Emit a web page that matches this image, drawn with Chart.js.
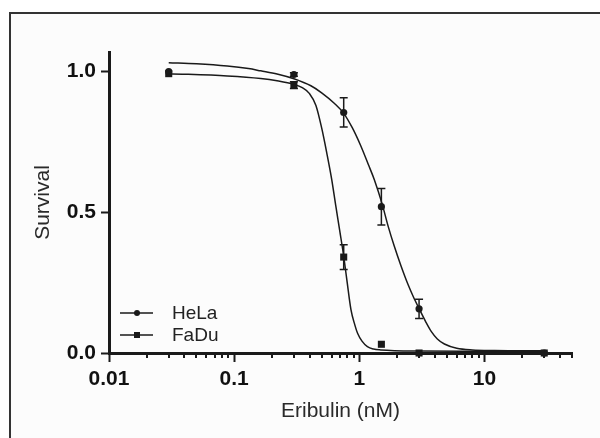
<!DOCTYPE html>
<html>
<head>
<meta charset="utf-8">
<script src="https://cdn.jsdelivr.net/npm/chart.js@4.4.0/dist/chart.umd.min.js"></script>
<style>
  html, body { margin: 0; padding: 0; background: #fff; }
</style>
</head>
<body>
<canvas id="c" width="600" height="438"></canvas>
<script>
// measured points (mean +/- sem)
const doses = [0.03, 0.3, 0.75, 1.5, 3, 30];
const helaMean = [1.0, 0.99, 0.855, 0.52, 0.157, 0.0];
const helaErr = [0, 0.006, 0.052, 0.065, 0.034, 0];
const faduMean = [0.993, 0.952, 0.341, 0.031, 0.0, 0.0];
const faduErr = [0, 0.012, 0.044, 0, 0, 0];

// fitted curves
const helaFitX = [0.03, 0.05, 0.088, 0.13, 0.163, 0.22, 0.3, 0.41, 0.5, 0.63, 0.75, 0.88, 1.03, 1.18, 1.32, 1.52,
                  1.7, 1.9, 2.15, 2.44, 2.7, 3.0, 3.4, 3.75, 4.2, 4.78, 6, 8, 12, 30];
const helaFitY = [1.032, 1.028, 1.02, 1.011, 1.003, 0.992, 0.975, 0.95, 0.925, 0.888, 0.852, 0.8, 0.735, 0.67, 0.615, 0.53,
                  0.45, 0.38, 0.31, 0.245, 0.2, 0.158, 0.11, 0.077, 0.05, 0.032, 0.017, 0.011, 0.009, 0.008];
const faduFitX = [0.03, 0.088, 0.163, 0.22, 0.3, 0.35, 0.4, 0.45, 0.5, 0.55, 0.6, 0.65, 0.7, 0.75, 0.8, 0.857,
                  0.92, 0.968, 1.05, 1.16, 1.3, 1.48, 3, 30];
const faduFitY = [0.993, 0.985, 0.976, 0.968, 0.955, 0.943, 0.922, 0.88, 0.8, 0.71, 0.62, 0.52, 0.43, 0.344, 0.25, 0.154,
                  0.1, 0.07, 0.042, 0.0225, 0.014, 0.011, 0.007, 0.005];

const xMajor = [0.01, 0.1, 1, 10];
const xMinor = [0.02, 0.03, 0.04, 0.05, 0.06, 0.07, 0.08, 0.09,
                0.2, 0.3, 0.4, 0.5, 0.6, 0.7, 0.8, 0.9,
                2, 3, 4, 5, 6, 7, 8, 9, 20, 30, 40, 50];
const yTicks = [0, 0.5, 1.0];

const ink = '#1a1a1a';
const FONT = 'Arial, "Liberation Sans", sans-serif';

const pts = (xs, ys) => xs.map((x, i) => ({ x: x, y: ys[i] }));

// frame around the figure
const framePlugin = {
  id: 'frame',
  beforeDraw(chart) {
    const c = chart.ctx;
    c.save();
    c.fillStyle = '#fcfcfc';
    c.fillRect(10, 13, 590, 425);
    c.strokeStyle = '#333';
    c.lineWidth = 2;
    c.beginPath();
    c.moveTo(10, 438);
    c.lineTo(10, 13);
    c.lineTo(600, 13);
    c.stroke();
    c.restore();
  }
};

// error bars under the markers
const errorPlugin = {
  id: 'errbars',
  beforeDatasetsDraw(chart) {
    const c = chart.ctx;
    const xs = chart.scales.x, ys = chart.scales.y;
    c.save();
    c.strokeStyle = ink;
    c.lineWidth = 1.5;
    [[helaMean, helaErr], [faduMean, faduErr]].forEach(([m, e]) => {
      doses.forEach((d, i) => {
        if (!e[i]) return;
        const px = xs.getPixelForValue(d);
        const y1 = ys.getPixelForValue(m[i] + e[i]);
        const y2 = ys.getPixelForValue(m[i] - e[i]);
        c.beginPath();
        c.moveTo(px, y1); c.lineTo(px, y2);
        c.moveTo(px - 4, y1); c.lineTo(px + 4, y1);
        c.moveTo(px - 4, y2); c.lineTo(px + 4, y2);
        c.stroke();
      });
    });
    c.restore();
  }
};

// minor ticks on the log axis + legend inside the plot
const extrasPlugin = {
  id: 'extras',
  afterDraw(chart) {
    const c = chart.ctx;
    const xs = chart.scales.x;
    const base = chart.chartArea.bottom;
    c.save();
    c.strokeStyle = ink;
    c.lineWidth = 2;
    c.beginPath();
    xMinor.forEach(v => {
      const px = Math.round(xs.getPixelForValue(v));
      c.moveTo(px, base);
      c.lineTo(px, base + 5);
    });
    c.stroke();

    // legend
    const items = [['HeLa', 'circle', 313], ['FaDu', 'rect', 335]];
    c.font = '19px ' + FONT;
    c.textBaseline = 'middle';
    items.forEach(([label, style, y]) => {
      c.strokeStyle = ink;
      c.lineWidth = 1.5;
      c.beginPath();
      c.moveTo(120, y); c.lineTo(153, y);
      c.stroke();
      c.fillStyle = ink;
      if (style === 'circle') {
        c.beginPath(); c.arc(137, y, 3, 0, Math.PI * 2); c.fill();
      } else {
        c.fillRect(134, y - 3, 6, 6);
      }
      c.fillStyle = '#222';
      c.fillText(label, 172, y + 1);
    });
    c.restore();
  }
};

new Chart(document.getElementById('c'), {
  type: 'scatter',
  data: {
    datasets: [
      {
        label: 'HeLa fit', data: pts(helaFitX, helaFitY), showLine: true,
        borderColor: ink, borderWidth: 1.5, pointRadius: 0,
        cubicInterpolationMode: 'monotone', clip: false
      },
      {
        label: 'FaDu fit', data: pts(faduFitX, faduFitY), showLine: true,
        borderColor: ink, borderWidth: 1.5, pointRadius: 0,
        cubicInterpolationMode: 'monotone', clip: false
      },
      {
        label: 'HeLa', data: pts(doses, helaMean), pointStyle: 'circle',
        pointRadius: 3.6, backgroundColor: ink, borderColor: ink, borderWidth: 0, clip: false
      },
      {
        label: 'FaDu', data: pts(doses, faduMean), pointStyle: 'rect',
        pointRadius: 5, backgroundColor: ink, borderColor: ink, borderWidth: 0, clip: false
      }
    ]
  },
  options: {
    responsive: false,
    animation: false,
    events: [],
    layout: { padding: { top: 52, right: 28, left: 0, bottom: 0 } },
    plugins: { legend: { display: false }, tooltip: { enabled: false } },
    scales: {
      x: {
        type: 'logarithmic', min: 0.01, max: 50,
        afterBuildTicks: s => { s.ticks = xMajor.map(v => ({ value: v })); },
        afterFit: s => { s.height = 85; },
        grid: { drawOnChartArea: false, drawTicks: true, tickLength: 9, tickWidth: 2, color: ink },
        border: { display: true, color: ink, width: 3 },
        ticks: {
          autoSkip: false, maxRotation: 0, padding: 5, color: '#111',
          font: { family: FONT, size: 21, weight: 'bold' },
          callback: v => String(v)
        },
        title: {
          display: true, text: 'Eribulin (nM)', color: '#2a2a2a',
          font: { family: FONT, size: 21 }, padding: { top: 0, bottom: 14 }
        }
      },
      y: {
        min: 0, max: 1.07,
        afterBuildTicks: s => { s.ticks = yTicks.map(v => ({ value: v })); },
        afterFit: s => { s.width = 109; },
        grid: { drawOnChartArea: false, drawTicks: true, tickLength: 8, tickWidth: 2, color: ink },
        border: { display: true, color: ink, width: 3 },
        ticks: {
          padding: 5, color: '#111',
          font: { family: FONT, size: 21, weight: 'bold' },
          callback: v => Number(v).toFixed(1)
        },
        title: {
          display: true, text: 'Survival', color: '#2a2a2a',
          font: { family: FONT, size: 21 }, padding: { top: 31, bottom: 0 }
        }
      }
    }
  },
  plugins: [framePlugin, errorPlugin, extrasPlugin]
});
</script>
</body>
</html>
